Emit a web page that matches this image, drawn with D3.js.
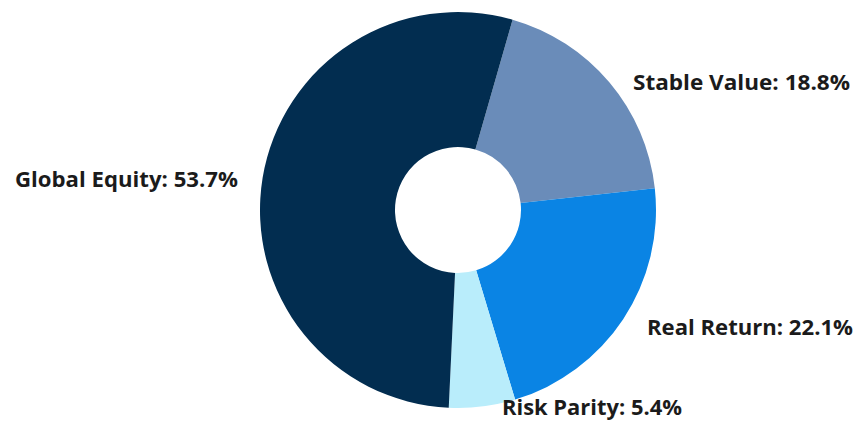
<!DOCTYPE html>
<html>
<head>
<meta charset="utf-8">
<script src="https://cdn.jsdelivr.net/npm/d3@7"></script>
<style>
  html, body { margin: 0; padding: 0; background: #ffffff; }
  svg { display: block; }
  text { font-family: "Open Sans", "Liberation Sans", Arial, sans-serif; font-weight: bold; fill: #1b1b1b; }
</style>
</head>
<body>
<svg id="chart" width="859" height="429"></svg>
<script>
// Allocation by asset class (percent of total)
const categories = ["Stable Value", "Real Return", "Risk Parity", "Global Equity"];
const shares = [18.8, 22.1, 5.4, 53.7];
const colors = ["#6a8cb9", "#0a84e4", "#b9edfb", "#022d50"];

// Label placement: anchor point, text anchor and rendered width
const labelLayout = {
  "Stable Value":  { x: 633, y: 90,  anchor: "start", width: 217 },
  "Real Return":   { x: 647, y: 335, anchor: "start", width: 206 },
  "Risk Parity":   { x: 502, y: 415, anchor: "start", width: 180 },
  "Global Equity": { x: 238, y: 187, anchor: "end",   width: 223 }
};

const svg = d3.select("#chart");
const cx = 458, cy = 210;
const outerR = 198, innerR = 63;
const startDeg = 16;

const data = categories.map((c, i) => ({ name: c, value: shares[i], color: colors[i] }));

const pie = d3.pie()
  .sort(null)
  .value(d => d.value)
  .startAngle(startDeg * Math.PI / 180)
  .endAngle(startDeg * Math.PI / 180 + 2 * Math.PI);

const arc = d3.arc().innerRadius(innerR).outerRadius(outerR);

const g = svg.append("g").attr("transform", `translate(${cx},${cy})`);

g.selectAll("path.slice")
  .data(pie(data))
  .join("path")
  .attr("class", "slice")
  .attr("d", arc)
  .attr("fill", d => d.data.color);

svg.selectAll("text.label")
  .data(data)
  .join("text")
  .attr("class", "label")
  .attr("x", d => labelLayout[d.name].x)
  .attr("y", d => labelLayout[d.name].y)
  .attr("text-anchor", d => labelLayout[d.name].anchor)
  .attr("font-size", 21)
  .attr("textLength", d => labelLayout[d.name].width)
  .attr("lengthAdjust", "spacingAndGlyphs")
  .text(d => `${d.name}: ${d3.format(".1f")(d.value)}%`);
</script>
</body>
</html>
